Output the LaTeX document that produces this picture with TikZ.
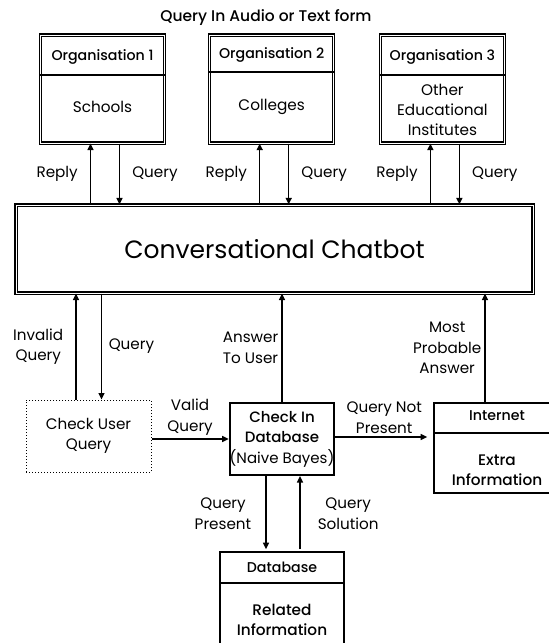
\documentclass[tikz,border=0pt]{standalone}
\usepackage{fontspec}
\setmainfont{Poppins}
\newfontfamily\medfont{Poppins Medium}
\usepackage{tikz}
\usetikzlibrary{arrows.meta,positioning}

\begin{document}
\begin{tikzpicture}[x=1pt,y=-1pt,->,>={Triangle[length=6.5pt,width=6pt]},line width=1.5pt,
    lbl/.style={inner sep=0pt,align=center,font=\fontsize{15.2}{20.5}\selectfont},
    orgbox/.style={draw,double,line width=1.2pt,double distance=0.8pt,inner sep=0pt,minimum width=124pt,minimum height=108pt},
    headtxt/.style={inner sep=0pt,font=\medfont\fontsize{14.2}{16}\selectfont},
    bodytxt/.style={inner sep=0pt,align=center,font=\fontsize{15.3}{20}\selectfont},
    plainbox/.style={draw,line width=1.7pt,inner sep=0pt},
    divider/.style={-,line width=2.2pt}]
    %\draw[help lines] (0,0) grid (549,643);
    \useasboundingbox (0,0) rectangle (549,643);
    \clip (0,0) rectangle (549,643);
    \node[headtxt,font=\medfont\fontsize{15.5}{18}\selectfont] (title) at (266,18) {Query In Audio or Text form} ;
    \node[orgbox] (org1) at (102.5,89) {} ;
    \node[orgbox] (org2) [right=44pt of org1] {} ;
    \node[orgbox] (org3) [right=45.5pt of org2] {} ;
    \node[headtxt] (org1head) at (org1.center |- 0,57) {Organisation 1} ;
    \node[headtxt] (org2head) at (org2.center |- 0,55) {Organisation 2} ;
    \node[headtxt] (org3head) at (org3.center |- 0,57) {Organisation 3} ;
    \node[bodytxt] (schools) at (org1.center |- 0,107) {Schools} ;
    \node[bodytxt] (colleges) at (org2.center |- 0,107) {Colleges} ;
    \node[bodytxt] (others) at (org3.center |- 0,110) {Other\\Educational\\Institutes} ;
    \draw[divider] (org1.west |- 0,75) -- (org1.east |- 0,75) ;
    \draw[divider] (org2.west |- 0,72) -- (org2.east |- 0,72) ;
    \draw[divider] (org3.west |- 0,75) -- (org3.east |- 0,75) ;
    \node[orgbox,minimum width=517pt,minimum height=88pt,font=\fontsize{25}{30}\selectfont] (chatbot) at (274.5,249) {Conversational Chatbot} ;
    \node[draw,dotted,line width=1pt,minimum width=125pt,minimum height=72pt,lbl] (checkq) at (88.5,436) {Check User\\Query} ;
    \node[plainbox,line width=2pt,minimum width=104pt,minimum height=72pt,align=center,font=\medfont\fontsize{15}{20.5}\selectfont] (checkdb) at (282,439) {Check In\\Database\\{\normalfont(Naive Bayes)}} ;
    \node[plainbox,minimum width=126pt,minimum height=90pt] (internet) at (497,448) {} ;
    \node[headtxt] (internethead) at (internet.center |- 0,416) {Internet} ;
    \node[bodytxt,font=\medfont\fontsize{15.3}{20}\selectfont] (extra) at (internet.center |- 0,470) {Extra\\Information} ;
    \draw[divider,line width=1.7pt] (internet.west |- 0,433) -- (internet.east |- 0,433) ;
    \node[plainbox,minimum width=124pt,minimum height=103pt] (database) at (282,603.5) {} ;
    \node[headtxt] (databasehead) at (database.center |- 0,567) {Database} ;
    \node[bodytxt,font=\medfont\fontsize{15.3}{20}\selectfont] (related) at (database.center |- 0,620) {Related\\Information} ;
    \draw[divider,line width=1.7pt] (database.west |- 0,583) -- (database.east |- 0,583) ;
    \path
    ([xshift=-12pt]org1.south |- chatbot.north) edge node [lbl,left=12pt] {Reply} ([xshift=-12pt]org1.south)
    ([xshift=17pt]org1.south) edge node [lbl,right=12pt] {Query} ([xshift=17pt]org1.south |- chatbot.north)
    ([xshift=-12pt]org2.south |- chatbot.north) edge node [lbl,left=12pt] {Reply} ([xshift=-12pt]org2.south)
    ([xshift=17pt]org2.south) edge node [lbl,right=12pt] {Query} ([xshift=17pt]org2.south |- chatbot.north)
    ([xshift=-12pt]org3.south |- chatbot.north) edge node [lbl,left=12pt] {Reply} ([xshift=-12pt]org3.south)
    ([xshift=17pt]org3.south) edge node [lbl,right=12pt] {Query} ([xshift=17pt]org3.south |- chatbot.north)
    ([xshift=-12.5pt]checkq.north) edge node [lbl,left=12pt] {Invalid\\Query} ([xshift=-12.5pt]checkq.north |- chatbot.south)
    ([xshift=13pt]checkq.north |- chatbot.south) edge node [lbl,right=6.5pt] {Query} ([xshift=13pt]checkq.north)
    (checkdb.north) edge node [lbl,left=3pt] {Answer\\To User} (checkdb.north |- chatbot.south)
    ([xshift=-12pt]internet.north) edge node [lbl,left=3pt] {Most\\Probable\\Answer} ([xshift=-12pt]internet.north |- chatbot.south)
    (checkq.east |- checkdb.west) edge node [lbl,above=3pt] {Valid\\Query} (checkdb.west)
    ([yshift=2pt]checkdb.east) edge [shorten >=6pt] node [lbl,above=3pt] {Query Not\\Present} ([yshift=2pt]checkdb.east -| internet.west)
    ([xshift=-16pt]checkdb.south) edge [shorten >=2pt] node [lbl,left=14pt] {Query\\Present} ([xshift=-16pt]checkdb.south |- database.north)
    ([xshift=18pt]checkdb.south |- database.north) edge [shorten <=2pt] node [lbl,right=17pt] {Query\\Solution} ([xshift=18pt]checkdb.south) ;
\end{tikzpicture}
\end{document}
